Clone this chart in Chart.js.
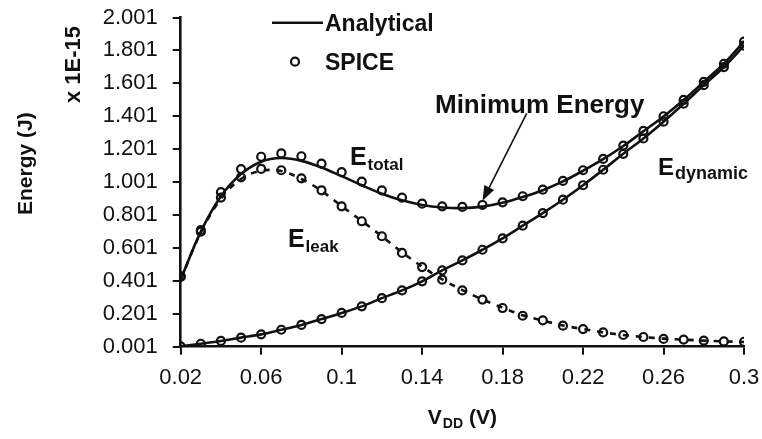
<!DOCTYPE html>
<html>
<head>
<meta charset="utf-8">
<script src="https://cdn.jsdelivr.net/npm/chart.js@4.4.1/dist/chart.umd.min.js"></script>
<style>
  html, body { margin: 0; padding: 0; background: #fff; }
</style>
</head>
<body>
<canvas id="energyChart" width="762" height="439"></canvas>
<script>

// supply voltage sweep (V)
const vdd = [0.02, 0.03, 0.04, 0.05, 0.06, 0.07, 0.08, 0.09, 0.10, 0.11,
             0.12, 0.13, 0.14, 0.15, 0.16, 0.17, 0.18, 0.19, 0.20, 0.21,
             0.22, 0.23, 0.24, 0.25, 0.26, 0.27, 0.28, 0.29, 0.30];

// energies in units of 1E-15 J
const modelTotal = [0.41, 0.70, 0.915, 1.05, 1.125, 1.147, 1.13, 1.09, 1.037, 0.982,
                    0.93, 0.89, 0.862, 0.847, 0.843, 0.852, 0.875, 0.91, 0.952, 1.005,
                    1.07, 1.14, 1.22, 1.31, 1.40, 1.50, 1.61, 1.72, 1.855];
const modelLeak  = [0.41, 0.695, 0.90, 1.02, 1.07, 1.068, 1.02, 0.948, 0.855, 0.765,
                    0.672, 0.575, 0.487, 0.41, 0.345, 0.288, 0.238, 0.192, 0.16, 0.13,
                    0.108, 0.088, 0.072, 0.06, 0.05, 0.044, 0.038, 0.033, 0.03];
const modelDyn   = [0.003, 0.019, 0.036, 0.056, 0.076, 0.104, 0.133, 0.169, 0.206, 0.246,
                    0.296, 0.343, 0.398, 0.465, 0.525, 0.59, 0.659, 0.736, 0.813, 0.894,
                    0.982, 1.076, 1.173, 1.266, 1.368, 1.477, 1.59, 1.70, 1.83];

const spiceTotal = [0.43, 0.71, 0.94, 1.08, 1.155, 1.175, 1.158, 1.113, 1.061, 1.004,
                    0.951, 0.907, 0.87, 0.854, 0.85, 0.862, 0.878, 0.915, 0.955, 1.008,
                    1.073, 1.142, 1.223, 1.312, 1.401, 1.50, 1.61, 1.72, 1.855];
const spiceLeak  = [0.425, 0.70, 0.907, 1.03, 1.081, 1.073, 1.024, 0.951, 0.854, 0.763,
                    0.672, 0.571, 0.485, 0.408, 0.343, 0.287, 0.236, 0.189, 0.161, 0.129,
                    0.108, 0.088, 0.072, 0.06, 0.048, 0.044, 0.038, 0.033, 0.031];
const spiceDyn   = [0.003, 0.019, 0.036, 0.056, 0.076, 0.104, 0.133, 0.169, 0.206, 0.246,
                    0.296, 0.343, 0.398, 0.465, 0.525, 0.59, 0.659, 0.736, 0.813, 0.894,
                    0.982, 1.076, 1.173, 1.266, 1.368, 1.477, 1.59, 1.70, 1.83];

const xTicks = [0.02, 0.06, 0.1, 0.14, 0.18, 0.22, 0.26, 0.3];
const yTicks = [0.001, 0.201, 0.401, 0.601, 0.801, 1.001, 1.201, 1.401, 1.601, 1.801, 2.001];

const FONT = "'Liberation Sans', Arial, Helvetica, sans-serif";
const INK = '#111';

const pts = (arr) => vdd.map((x, i) => ({ x: x, y: arr[i] }));

const curve = (arr, dashed) => ({
    data: pts(arr),
    borderColor: INK,
    borderWidth: 2.6,
    borderDash: dashed ? [6, 7] : [],
    pointRadius: 0,
    tension: 0.35,
    fill: false
});

const circles = (arr) => ({
    data: pts(arr),
    showLine: false,
    pointStyle: 'circle',
    pointRadius: 4,
    pointBorderWidth: 2.2,
    pointBorderColor: INK,
    pointBackgroundColor: 'rgba(0,0,0,0)'
});

// text with a subscript, e.g. E_total
function subText(ctx, x, y, main, sub, size, subSize, drop) {
    ctx.font = 'bold ' + size + 'px ' + FONT;
    ctx.fillText(main, x, y);
    const w = ctx.measureText(main).width;
    ctx.font = 'bold ' + subSize + 'px ' + FONT;
    ctx.fillText(sub, x + w + 1, y + drop);
    return w + 1 + ctx.measureText(sub).width;
}

const decorations = {
    id: 'decorations',
    afterDraw(chart) {
        const ctx = chart.ctx;
        const xs = chart.scales.x, ys = chart.scales.y;
        const X = (v) => xs.getPixelForValue(v);
        const Y = (v) => ys.getPixelForValue(v);
        ctx.save();
        ctx.fillStyle = INK;
        ctx.strokeStyle = INK;
        ctx.textAlign = 'left';
        ctx.textBaseline = 'alphabetic';

        // legend
        ctx.lineWidth = 2.6;
        ctx.beginPath();
        ctx.moveTo(272, 22.7);
        ctx.lineTo(323, 22.7);
        ctx.stroke();
        ctx.font = 'bold 23px ' + FONT;
        ctx.fillText('Analytical', 325, 30.7);
        ctx.lineWidth = 2.2;
        ctx.beginPath();
        ctx.arc(295, 61.7, 4, 0, Math.PI * 2);
        ctx.stroke();
        ctx.fillText('SPICE', 325, 70);

        // curve labels
        subText(ctx, X(0.1041), Y(1.105), 'E', 'total', 25, 17, 5);
        subText(ctx, X(0.0733), Y(0.607), 'E', 'leak', 25, 17, 5);
        subText(ctx, X(0.2572), Y(1.044), 'E', 'dynamic', 24, 18, 4);

        ctx.font = 'bold 26px ' + FONT;
        ctx.fillText('Minimum Energy', X(0.1464), Y(1.421));

        // arrow to the minimum of the total energy
        const tx = X(0.192), ty = Y(1.419);
        const hx = X(vdd[15]), hy = Y(spiceTotal[15] + 0.025);
        const ang = Math.atan2(hy - ty, hx - tx);
        ctx.lineWidth = 1.6;
        ctx.beginPath();
        ctx.moveTo(tx, ty);
        ctx.lineTo(hx - 10 * Math.cos(ang), hy - 10 * Math.sin(ang));
        ctx.stroke();
        ctx.beginPath();
        ctx.moveTo(hx, hy);
        ctx.lineTo(hx - 15 * Math.cos(ang) + 5.5 * Math.sin(ang), hy - 15 * Math.sin(ang) - 5.5 * Math.cos(ang));
        ctx.lineTo(hx - 15 * Math.cos(ang) - 5.5 * Math.sin(ang), hy - 15 * Math.sin(ang) + 5.5 * Math.cos(ang));
        ctx.closePath();
        ctx.fill();

        // axis titles
        ctx.save();
        ctx.translate(31.7, 215);
        ctx.rotate(-Math.PI / 2);
        ctx.font = 'bold 21px ' + FONT;
        ctx.fillText('Energy (J)', 0, 0);
        ctx.restore();

        ctx.save();
        ctx.translate(80, 103);
        ctx.rotate(-Math.PI / 2);
        ctx.font = 'bold 22px ' + FONT;
        ctx.fillText('x 1E-15', 0, 0);
        ctx.restore();

        // V_DD (V), centred under the plot
        ctx.font = 'bold 21px ' + FONT;
        const wV = ctx.measureText('V').width, wP = ctx.measureText(' (V)').width;
        ctx.font = 'bold 14px ' + FONT;
        const wD = ctx.measureText('DD').width;
        let x0 = (chart.chartArea.left + chart.chartArea.right) / 2 - (wV + wD + 1 + wP) / 2;
        ctx.font = 'bold 21px ' + FONT;
        ctx.fillText('V', x0, 423.5);
        ctx.font = 'bold 14px ' + FONT;
        ctx.fillText('DD', x0 + wV + 1, 427.5);
        ctx.font = 'bold 21px ' + FONT;
        ctx.fillText(' (V)', x0 + wV + 1 + wD, 423.5);

        ctx.restore();
    }
};

const axisGrid = { display: true, drawOnChartArea: false, drawTicks: true, tickLength: 8, color: INK, lineWidth: 2 };

new Chart(document.getElementById('energyChart'), {
    type: 'line',
    data: {
        datasets: [
            curve(modelTotal, false),
            curve(modelLeak, true),
            curve(modelDyn, false),
            circles(spiceTotal),
            circles(spiceLeak),
            circles(spiceDyn)
        ]
    },
    options: {
        responsive: false,
        animation: false,
        layout: { padding: { left: 0, right: 18, top: 17.5, bottom: 0 } },
        plugins: { legend: { display: false }, tooltip: { enabled: false } },
        scales: {
            x: {
                type: 'linear',
                min: 0.02,
                max: 0.3,
                afterBuildTicks: (s) => { s.ticks = xTicks.map(v => ({ value: v })); },
                afterFit: (s) => { s.height = 92.3; s.paddingLeft = 0; s.paddingRight = 0; },
                ticks: {
                    color: INK,
                    padding: 10,
                    maxRotation: 0,
                    font: { family: FONT, size: 22 },
                    callback: (v, i) => String(xTicks[i])
                },
                grid: axisGrid,
                border: { display: true, color: INK, width: 2.6 }
            },
            y: {
                type: 'linear',
                min: 0.001,
                max: 2.001,
                afterBuildTicks: (s) => { s.ticks = yTicks.map(v => ({ value: v })); },
                afterFit: (s) => { s.width = 180.7; s.paddingTop = 0; s.paddingBottom = 0; },
                ticks: {
                    color: INK,
                    padding: 15,
                    font: { family: FONT, size: 22 },
                    callback: (v, i) => yTicks[i].toFixed(3)
                },
                grid: axisGrid,
                border: { display: true, color: INK, width: 2.6 }
            }
        }
    },
    plugins: [decorations]
});
</script>
</body>
</html>
